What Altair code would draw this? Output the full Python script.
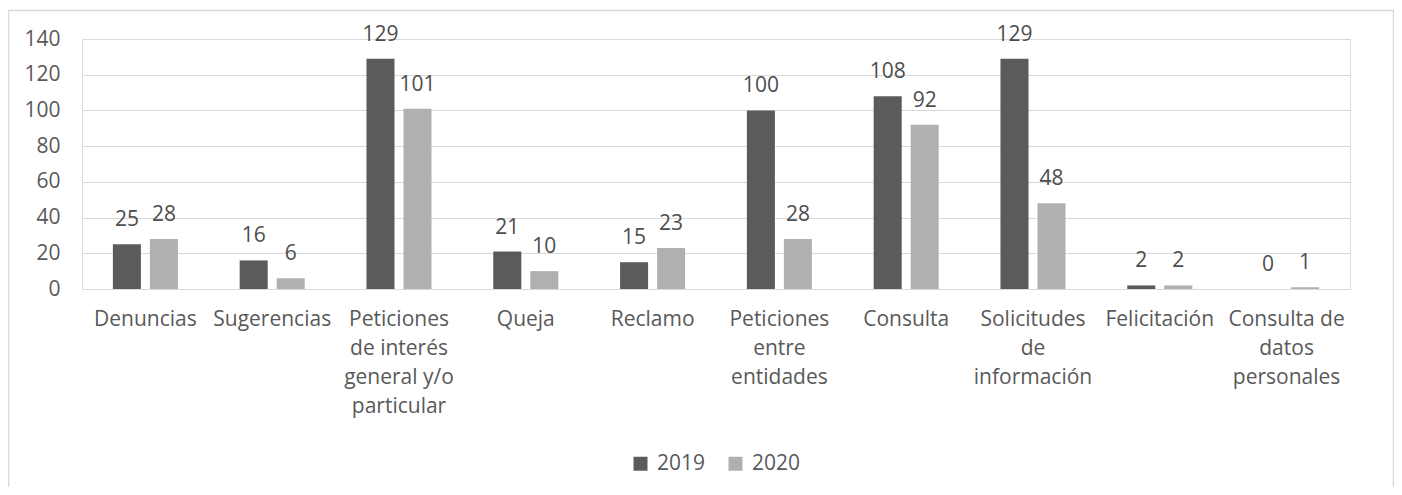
import json
import altair as alt
import pandas as pd

categories = [
    "Denuncias", "Sugerencias", "Peticiones de interés general y/o particular",
    "Queja", "Reclamo", "Peticiones entre entidades", "Consulta",
    "Solicitudes de información", "Felicitación", "Consulta de datos personales",
]
label_lines = [
    ["Denuncias"], ["Sugerencias"], ["Peticiones", "de interés", "general y/o", "particular"],
    ["Queja"], ["Reclamo"], ["Peticiones", "entre", "entidades"], ["Consulta"],
    ["Solicitudes", "de", "información"], ["Felicitación"], ["Consulta de", "datos", "personales"],
]
years = ["2019", "2020"]
values_2019 = [25, 16, 129, 21, 15, 100, 108, 129, 2, 0]
values_2020 = [28, 6, 101, 10, 23, 28, 92, 48, 2, 1]
y_ticks = [0, 20, 40, 60, 80, 100, 120, 140]
colors = ["#5b5b5b", "#b0b0b0"]

rows = []
for c, a, b in zip(categories, values_2019, values_2020):
    rows.append({"category": c, "year": "2019", "value": a})
    rows.append({"category": c, "year": "2020", "value": b})
df = pd.DataFrame(rows)

label_map = json.dumps(dict(zip(categories, label_lines)), ensure_ascii=False)
FONT = "Open Sans"
FS = 21
W, H = 1268, 250

x_enc = alt.X(
    "category:N", sort=categories, title=None,
    scale=alt.Scale(paddingInner=0.487, paddingOuter=0.2435),
    axis=alt.Axis(labelExpr=f"{label_map}[datum.label]", labelAngle=0, ticks=False,
                  domainColor="#d9d9d9", labelPadding=19, labelLineHeight=29,
                  labelFontSize=FS, labelColor="#595959", labelFont=FONT, grid=False,
                  labelOverlap=False),
)
xo_enc = alt.XOffset("year:N", sort=years, scale=alt.Scale(paddingInner=0.243))
y_enc = alt.Y(
    "value:Q", title=None, scale=alt.Scale(domain=[0, 140], nice=False),
    axis=alt.Axis(values=y_ticks, domain=False, ticks=False, gridColor="#d9d9d9",
                  labelPadding=22, labelFontSize=FS, labelColor="#595959", labelFont=FONT,
                  labelOverlap=False),
)

base = alt.Chart(df)
bars = base.mark_bar().encode(
    x=x_enc, xOffset=xo_enc, y=y_enc,
    color=alt.Color("year:N", sort=years, scale=alt.Scale(domain=years, range=colors),
                    legend=alt.Legend(title=None, orient="none", legendX=548, legendY=414,
                                      direction="horizontal", symbolType="square",
                                      symbolSize=196, symbolStrokeWidth=0,
                                      labelFontSize=FS, labelColor="#595959",
                                      labelFont=FONT, columnPadding=19, labelOffset=6)),
)
texts = base.mark_text(baseline="alphabetic", dy=-18, fontSize=FS, font=FONT,
                       color="#4d4d4d").encode(
    x=x_enc, xOffset=xo_enc, y=y_enc, text="value:Q",
)

one = pd.DataFrame({"a": [0]})
edge = dict(stroke="#d9d9d9", strokeWidth=1.5)
left_edge = alt.Chart(one).mark_rule(**edge).encode(
    x=alt.value(-73.5), y=alt.value(-29), y2=alt.value(460))
right_edge = alt.Chart(one).mark_rule(**edge).encode(
    x=alt.value(1311.5), y=alt.value(-29), y2=alt.value(460))
top_edge = alt.Chart(one).mark_rule(**edge).encode(
    x=alt.value(-73.5), x2=alt.value(1311.5), y=alt.value(-28.5))

chart = alt.layer(left_edge, right_edge, top_edge, bars, texts).properties(
    width=W, height=H,
    autosize=alt.AutoSizeParams(type="none"),
    padding={"left": 74, "top": 31, "right": 44, "bottom": 198},
).configure_view(stroke=None).configure(background="white")

chart.save("out.html", embed_options={"renderer": "svg", "actions": False})
